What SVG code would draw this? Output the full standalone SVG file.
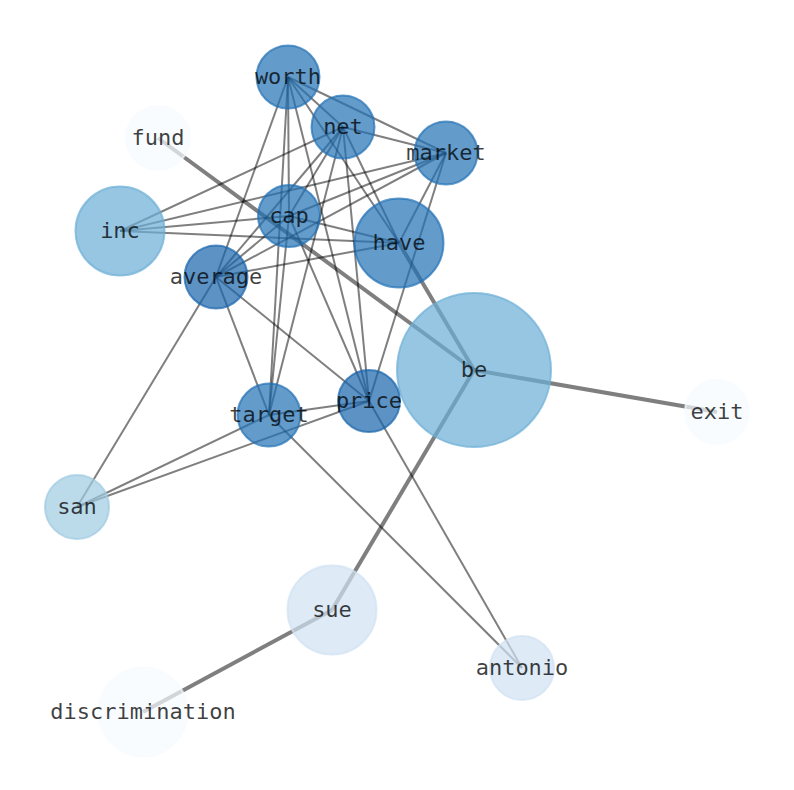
<svg xmlns="http://www.w3.org/2000/svg" width="794" height="790" viewBox="0 0 794 790">
<style>
.e{stroke:#000;stroke-opacity:.5;stroke-width:2;fill:none}
.t{stroke-width:4}
.n{fill-opacity:.7;stroke-opacity:.7;stroke-width:2}
.c1{fill:#2171b5;stroke:#2171b5}
.c2{fill:#1764ab;stroke:#1764ab}
.c3{fill:#6baed6;stroke:#6baed6}
.c4{fill:#9ecae1;stroke:#9ecae1}
.c5{fill:#d0e1f2;stroke:#d0e1f2}
.c6{fill:#f7fbff;stroke:#f7fbff}
text{font-family:"DejaVu Sans Mono","Liberation Mono",monospace;font-size:22px;fill:#000;fill-opacity:.75;text-anchor:middle;dominant-baseline:central}
</style>
<rect width="794" height="790" fill="#fff"/>
<g id="connectors">
<line class="e" x1="288" y1="77" x2="343" y2="127"/>
<line class="e" x1="288" y1="77" x2="446" y2="153"/>
<line class="e" x1="288" y1="77" x2="289" y2="216"/>
<line class="e" x1="288" y1="77" x2="399" y2="243"/>
<line class="e" x1="288" y1="77" x2="216" y2="277"/>
<line class="e" x1="288" y1="77" x2="269" y2="415"/>
<line class="e" x1="288" y1="77" x2="369" y2="401"/>
<line class="e" x1="343" y1="127" x2="446" y2="153"/>
<line class="e" x1="343" y1="127" x2="289" y2="216"/>
<line class="e" x1="343" y1="127" x2="399" y2="243"/>
<line class="e" x1="343" y1="127" x2="216" y2="277"/>
<line class="e" x1="343" y1="127" x2="120" y2="231"/>
<line class="e" x1="343" y1="127" x2="269" y2="415"/>
<line class="e" x1="343" y1="127" x2="369" y2="401"/>
<line class="e" x1="446" y1="153" x2="289" y2="216"/>
<line class="e" x1="446" y1="153" x2="399" y2="243"/>
<line class="e" x1="446" y1="153" x2="216" y2="277"/>
<line class="e" x1="446" y1="153" x2="120" y2="231"/>
<line class="e" x1="446" y1="153" x2="369" y2="401"/>
<line class="e" x1="289" y1="216" x2="399" y2="243"/>
<line class="e" x1="289" y1="216" x2="216" y2="277"/>
<line class="e" x1="289" y1="216" x2="120" y2="231"/>
<line class="e" x1="289" y1="216" x2="269" y2="415"/>
<line class="e" x1="289" y1="216" x2="369" y2="401"/>
<line class="e" x1="399" y1="243" x2="216" y2="277"/>
<line class="e" x1="399" y1="243" x2="120" y2="231"/>
<line class="e" x1="216" y1="277" x2="269" y2="415"/>
<line class="e" x1="216" y1="277" x2="369" y2="401"/>
<line class="e" x1="216" y1="277" x2="77" y2="507"/>
<line class="e" x1="269" y1="415" x2="369" y2="401"/>
<line class="e" x1="269" y1="415" x2="77" y2="507"/>
<line class="e" x1="269" y1="415" x2="522" y2="668"/>
<line class="e" x1="369" y1="401" x2="77" y2="507"/>
<line class="e" x1="369" y1="401" x2="522" y2="668"/>
<line class="e t" x1="158" y1="138" x2="474" y2="370"/>
<line class="e t" x1="399" y1="243" x2="474" y2="370"/>
<line class="e t" x1="474" y1="370" x2="717" y2="412"/>
<line class="e t" x1="474" y1="370" x2="332" y2="610"/>
<line class="e t" x1="332" y1="610" x2="143" y2="712"/>
</g>
<g id="node-worth"><circle class="n c1" cx="288" cy="77" r="31.5"/><text x="288" y="76">worth</text></g>
<g id="node-net"><circle class="n c1" cx="343" cy="127" r="31.5"/><text x="343" y="126">net</text></g>
<g id="node-market"><circle class="n c1" cx="446" cy="153" r="31.5"/><text x="446" y="152">market</text></g>
<g id="node-fund"><circle class="n c6" cx="158" cy="138" r="32"/><text x="158" y="137">fund</text></g>
<g id="node-inc"><circle class="n c3" cx="120" cy="231" r="44.5"/><text x="120" y="230">inc</text></g>
<g id="node-cap"><circle class="n c1" cx="289" cy="216" r="31"/><text x="289" y="215">cap</text></g>
<g id="node-have"><circle class="n c1" cx="399" cy="243" r="44.5"/><text x="399" y="242">have</text></g>
<g id="node-average"><circle class="n c2" cx="216" cy="277" r="31.5"/><text x="216" y="276">average</text></g>
<g id="node-be"><circle class="n c3" cx="474" cy="370" r="77"/><text x="474" y="369">be</text></g>
<g id="node-exit"><circle class="n c6" cx="717" cy="412" r="32"/><text x="717" y="411">exit</text></g>
<g id="node-target"><circle class="n c1" cx="269" cy="415" r="31.5"/><text x="269" y="414">target</text></g>
<g id="node-price"><circle class="n c2" cx="369" cy="401" r="31"/><text x="369" y="400">price</text></g>
<g id="node-san"><circle class="n c4" cx="77" cy="507" r="32"/><text x="77" y="506">san</text></g>
<g id="node-sue"><circle class="n c5" cx="332" cy="610" r="44.5"/><text x="332" y="609">sue</text></g>
<g id="node-antonio"><circle class="n c5" cx="522" cy="668" r="32"/><text x="522" y="667">antonio</text></g>
<g id="node-discrimination"><circle class="n c6" cx="143" cy="712" r="44.5"/><text x="143" y="711">discrimination</text></g>
</svg>
